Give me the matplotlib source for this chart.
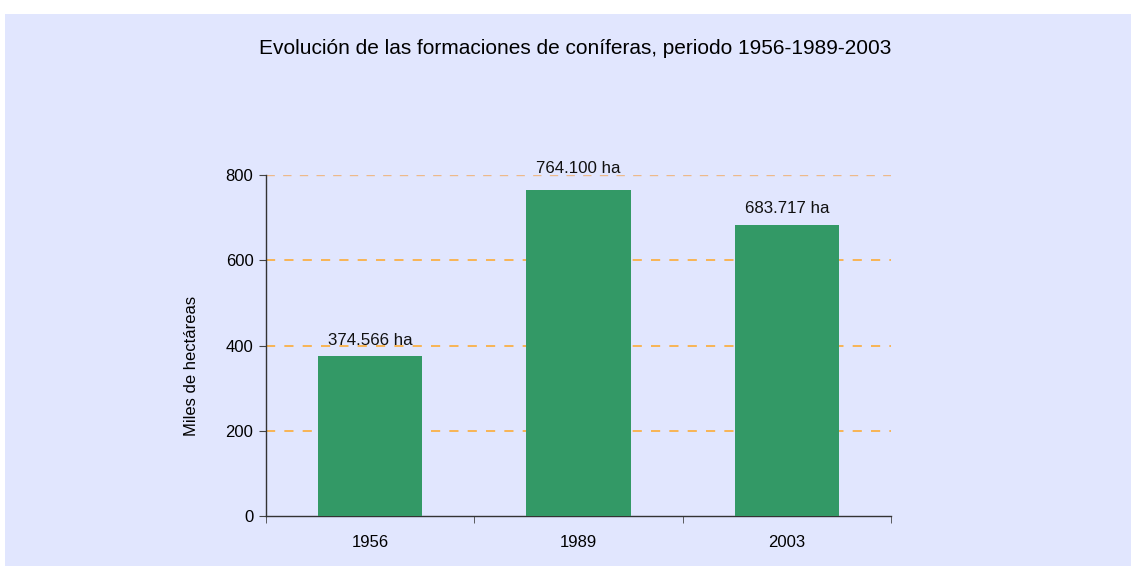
import matplotlib.pyplot as plt
from matplotlib.patches import Rectangle
from matplotlib.transforms import offset_copy

# superficie de coníferas (miles de ha)
years = ['1956', '1989', '2003']
area = [374.566, 764.100, 683.717]
labels = ['374.566 ha', '764.100 ha', '683.717 ha']
yticks = [0, 200, 400, 600, 800]

plt.rcParams['font.family'] = ['Liberation Sans', 'DejaVu Sans']

W, H = 1131, 566
fig = plt.figure(figsize=(W / 100, H / 100), dpi=100, facecolor='white')
bg = '#E1E6FE'
fig.patches.append(Rectangle((5 / W, 0), 1 - 5 / W, 1 - 14 / H,
                             transform=fig.transFigure, facecolor=bg,
                             edgecolor='none', zorder=-10))

ax = fig.add_axes([266 / W, 1 - 516 / H, (891 - 266) / W, (516 - 175) / H])
ax.patch.set_alpha(0)

x = range(len(years))
ax.bar(x, area, width=0.5, color='#339966', zorder=3)
# excel sube la etiqueta del 1989 para no pisar la línea de 800
lift = [8, 12.5, 8]
for xi, v, lab, dy in zip(x, area, labels, lift):
    tr = offset_copy(ax.transData, fig=fig, y=dy, units='points')
    ax.text(xi, v, lab, ha='center', va='baseline', fontsize=12.2,
            color='#111111', transform=tr)

ax.set_xlim(-0.5, 2.5)
ax.set_ylim(0, 800)
ax.set_yticks(yticks)
for t in yticks[1:-1]:
    ax.axhline(t, color='#FFA726', lw=1.1, ls=(0, (6, 6)), zorder=1)
ax.axhline(800, color='#EDB98A', lw=1.0, ls=(0, (6, 6)), zorder=1)

ax.set_xticks(list(x))
ax.set_xticklabels(years)
ax.set_xticks([-0.5, 0.5, 1.5, 2.5], minor=True)
ax.tick_params(axis='x', which='major', length=0, pad=14, labelsize=12)
ax.tick_params(axis='x', which='minor', length=5, direction='out', color='#444444')
ax.tick_params(axis='y', length=5, direction='out', color='#444444', labelsize=12, pad=4)

for s in ['top', 'right']:
    ax.spines[s].set_visible(False)
for s in ['left', 'bottom']:
    ax.spines[s].set_color('#333333')
    ax.spines[s].set_linewidth(1.0)

fig.text(192 / W, 1 - 366 / H, 'Miles de hectáreas', rotation=90,
         ha='center', va='center', fontsize=12)

fig.text(575 / W, 1 - 49 / H, 'Evolución de las formaciones de coníferas, periodo 1956-1989-2003',
         ha='center', va='center', fontsize=15)

fig.savefig('out.png', dpi=100, facecolor='white')
